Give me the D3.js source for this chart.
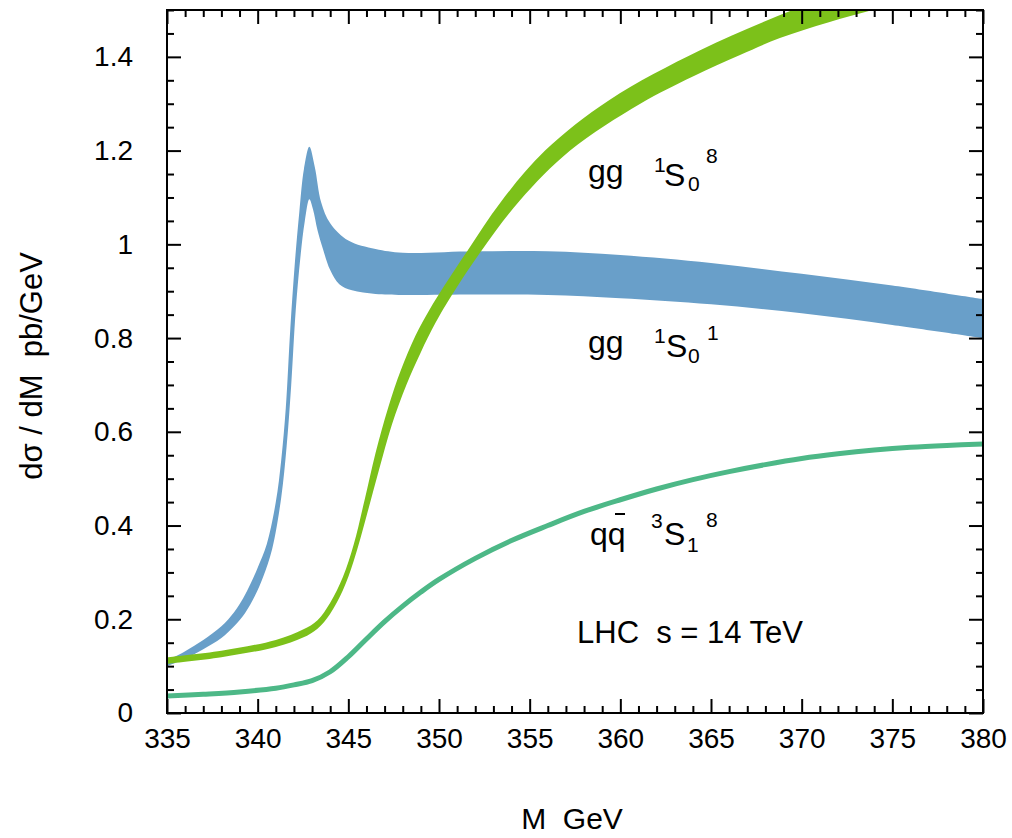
<!DOCTYPE html>
<html><head><meta charset="utf-8">
<script src="https://cdn.jsdelivr.net/npm/d3@7"></script>
<style>
html,body{margin:0;padding:0;background:#fff;}
text{font-family:"Liberation Sans",Arial,sans-serif;fill:#000;}
</style></head>
<body><svg id="c" width="1012" height="838"></svg>
<script>
// ---- data ----
const xTicksMajor = [335,340,345,350,355,360,365,370,375,380];
const yTicksMajor = [0,0.2,0.4,0.6,0.8,1.0,1.2,1.4];
const yTickLabels = ["0","0.2","0.4","0.6","0.8","1","1.2","1.4"];

// gg 1S0(1) band (blue): upper and lower edges [M, dσ/dM]
const blueUpper = [[335,0.112],[336,0.132],[337,0.156],[338,0.185],[338.7,0.215],[339.2,0.245],[339.6,0.275],[340.0,0.31],[340.5,0.36],[341.0,0.45],[341.3,0.54],[341.55,0.65],[341.8,0.82],[342.05,0.96],[342.3,1.07],[342.55,1.16],[342.85,1.208],[343.15,1.165],[343.5,1.09],[344.0,1.045],[345,1.008],[346.5,0.99],[348,0.982],[352,0.985],[356,0.985],[360,0.977],[365,0.960],[370,0.937],[375,0.912],[380,0.883]];
const blueLower = [[335,0.100],[336,0.116],[337,0.136],[338,0.160],[338.7,0.185],[339.3,0.213],[339.85,0.25],[340.3,0.29],[340.8,0.35],[341.3,0.46],[341.6,0.57],[341.85,0.70],[342.1,0.86],[342.35,0.97],[342.6,1.05],[342.85,1.096],[343.05,1.075],[343.3,1.03],[343.6,0.99],[344.0,0.945],[344.5,0.915],[345.2,0.902],[346.5,0.894],[348,0.892],[352,0.893],[356,0.892],[360,0.885],[365,0.872],[370,0.853],[375,0.828],[380,0.800]];

// gg 1S0(8) band (lime)
const limeUpper = [[335,0.119],[338,0.133],[341,0.156],[342.5,0.178],[343.3,0.198],[344.0,0.235],[344.7,0.29],[345.3,0.36],[345.9,0.455],[346.5,0.555],[347.2,0.652],[347.9,0.732],[348.7,0.805],[349.5,0.862],[350.3,0.912],[351.6,0.988],[353.4,1.09],[355.85,1.2],[359.4,1.308],[364.4,1.414],[369.5,1.5],[373,1.55]];
const limeLower = [[335,0.105],[338,0.119],[341,0.141],[342.5,0.161],[343.3,0.180],[344.0,0.212],[344.7,0.262],[345.3,0.325],[346.0,0.42],[346.7,0.52],[347.4,0.615],[348.2,0.70],[349.0,0.77],[349.8,0.832],[350.6,0.885],[352.37,0.988],[354.47,1.094],[357.23,1.2],[361.1,1.3],[364,1.358],[366.6,1.404],[368.8,1.44],[371.5,1.474],[374.7,1.508],[378,1.54]];

// q qbar 3S1(8) (teal line)
const tealLine = [[335,0.036],[337,0.040],[339,0.045],[341,0.053],[342,0.060],[343,0.069],[344,0.088],[345,0.120],[346,0.158],[347,0.195],[348,0.228],[349,0.258],[350,0.285],[352,0.330],[354,0.368],[356,0.400],[358,0.430],[360,0.455],[362,0.478],[364,0.498],[366,0.515],[368,0.530],[370,0.543],[372,0.553],[374,0.561],[376,0.567],[378,0.571],[380,0.574]];

// ---- drawing ----
const svg = d3.select("#c");
const L=167, R=983, T=10, B=713;
const x = d3.scaleLinear().domain([335,380]).range([L,R]);
const y = d3.scaleLinear().domain([0,1.5]).range([B,T]);

svg.append("defs").append("clipPath").attr("id","clip")
  .append("rect").attr("x",L).attr("y",T).attr("width",R-L).attr("height",B-T);
const plot = svg.append("g").attr("clip-path","url(#clip)");

const line = d3.line().x(d=>x(d[0])).y(d=>y(d[1])).curve(d3.curveCatmullRom.alpha(0.5));
function bandPath(up, lo){
  const a = line(up);
  const lr = line(lo.slice().reverse()).replace(/^M/,"L");
  return a + lr + "Z";
}
plot.append("path").attr("d",bandPath(blueUpper,blueLower)).attr("fill","#699fc9");
plot.append("path").attr("d",bandPath(limeUpper,limeLower)).attr("fill","#7cc11a");
plot.append("path").attr("d",line(tealLine)).attr("fill","none").attr("stroke","#4db887").attr("stroke-width",5);

// axes
const xMinor = d3.range(335,381,1).filter(v=>v%5!==0);
const yMinor = d3.range(0,31,1).map(i=>i*0.05).filter(v=>Math.abs(v/0.2-Math.round(v/0.2))>1e-6);
function styleAxis(g){ g.select(".domain").remove(); g.selectAll("line").attr("stroke","#000").attr("stroke-width",2); g.selectAll("text").attr("font-size",28).attr("font-family","Liberation Sans, Arial, sans-serif").attr("fill","#000"); }

svg.append("g").attr("transform",`translate(0,${B})`)
  .call(d3.axisBottom(x).tickValues(xTicksMajor).tickSize(-14).tickPadding(15).tickFormat(d3.format("d"))).call(styleAxis);
svg.append("g").attr("transform",`translate(0,${B})`)
  .call(d3.axisBottom(x).tickValues(xMinor).tickSize(-7).tickFormat("")).call(styleAxis);
svg.append("g").attr("transform",`translate(0,${T})`)
  .call(d3.axisTop(x).tickValues(xTicksMajor).tickSize(-14).tickFormat("")).call(styleAxis);
svg.append("g").attr("transform",`translate(0,${T})`)
  .call(d3.axisTop(x).tickValues(xMinor).tickSize(-7).tickFormat("")).call(styleAxis);
svg.append("g").attr("transform",`translate(${L},0)`)
  .call(d3.axisLeft(y).tickValues(yTicksMajor).tickSize(-14).tickPadding(34).tickFormat((d,i)=>yTickLabels[i])).call(styleAxis);
svg.append("g").attr("transform",`translate(${L},0)`)
  .call(d3.axisLeft(y).tickValues(yMinor).tickSize(-7).tickFormat("")).call(styleAxis);
svg.append("g").attr("transform",`translate(${R},0)`)
  .call(d3.axisRight(y).tickValues(yTicksMajor).tickSize(-14).tickFormat("")).call(styleAxis);
svg.append("g").attr("transform",`translate(${R},0)`)
  .call(d3.axisRight(y).tickValues(yMinor).tickSize(-7).tickFormat("")).call(styleAxis);

svg.append("rect").attr("x",L).attr("y",T).attr("width",R-L).attr("height",B-T)
  .attr("fill","none").attr("stroke","#000").attr("stroke-width",2);

// titles
svg.append("text").attr("x",572).attr("y",829).attr("text-anchor","middle").attr("font-size",30)
  .style("white-space","pre").text("M  GeV");
svg.append("text").attr("transform","translate(42,366) rotate(-90)").attr("text-anchor","middle").attr("font-size",31)
  .style("white-space","pre").text("dσ / dM  pb/GeV");

// annotations
function label(parts){
  const t = svg.append("text").style("white-space","pre");
  parts.forEach(p=>t.append("tspan").attr("x",p[1]).attr("y",p[2]).attr("font-size",p[3]).text(p[0]));
}
label([["gg",588,182,32],["1",654,172,21],["S",664,186,32],["0",688,191,21],["8",706,163,21]]);
label([["gg",588,353,32],["1",654,343,21],["S",666,357,32],["0",688,363,21],["1",707,340,21]]);
label([["qq",590,545,32],["3",651,528,21],["S",664,545,32],["1",687,552,21],["8",706,527,21]]);
svg.append("line").attr("x1",615).attr("x2",625).attr("y1",514).attr("y2",514).attr("stroke","#000").attr("stroke-width",2);
svg.append("text").attr("x",577).attr("y",643).attr("font-size",31).style("white-space","pre").text("LHC  s = 14 TeV");
</script></body></html>
